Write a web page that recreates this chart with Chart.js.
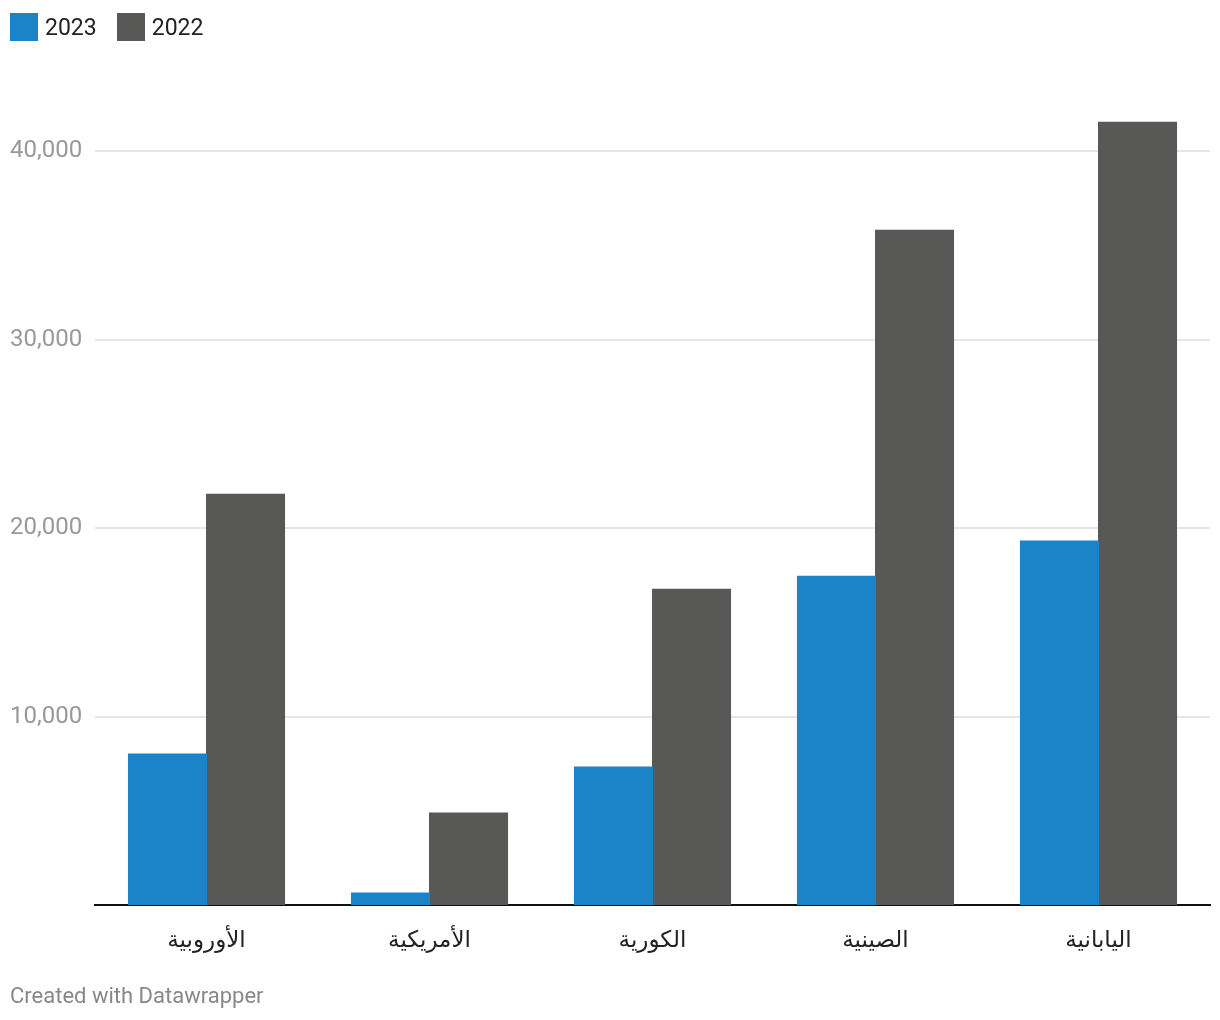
<!DOCTYPE html>
<html>
<head>
<meta charset="utf-8">
<script src="https://cdn.jsdelivr.net/npm/chart.js@4"></script>
<style>
  body { margin: 0; background: #fff; font-family: Roboto, "DejaVu Sans", sans-serif; }
  #wrap { position: relative; width: 1220px; height: 1020px; }
  #legend { position: absolute; left: 10px; top: 13px; display: flex; font-size: 23px; color: #222; }
  .item { display: flex; align-items: center; margin-right: 20px; }
  .box { width: 28px; height: 28px; margin-right: 7px; }
  #footer { position: absolute; left: 10px; top: 983px; font-size: 22px; color: #888; }
</style>
</head>
<body>
<div id="wrap">
  <canvas id="chart" width="1220" height="1020"></canvas>
  <div id="legend"></div>
  <div id="footer">Created with Datawrapper</div>
</div>
<script>
// ----------------------
// Data
// ----------------------
const categories = ["الأوروبية", "الأمريكية", "الكورية", "الصينية", "اليابانية"];
const values2023 = [8010, 640, 7320, 17450, 19310];
const values2022 = [21800, 4880, 16760, 35810, 41540];
const yTicks = [10000, 20000, 30000, 40000];

const BLUE = "#1b83c7";
const GRAY = "#585856";

// ----------------------
// Legend (html)
// ----------------------
const series = [
  { label: "2023", color: BLUE, data: values2023 },
  { label: "2022", color: GRAY, data: values2022 }
];
document.getElementById("legend").innerHTML = series
  .map(s => `<div class="item"><div class="box" style="background:${s.color}"></div>${s.label}</div>`)
  .join("");

// ----------------------
// Chart
// ----------------------
const ctx = document.getElementById("chart").getContext("2d");
new Chart(ctx, {
  type: "bar",
  data: {
    labels: categories,
    datasets: series.map(s => ({
      label: s.label,
      data: s.data,
      backgroundColor: s.color,
      borderWidth: 0,
      inflateAmount: 0.5,
      categoryPercentage: 0.7,
      barPercentage: 1.0
    }))
  },
  options: {
    responsive: false,
    animation: false,
    layout: { padding: { top: 57, right: 10, left: 10, bottom: 0 } },
    plugins: { legend: { display: false }, tooltip: { enabled: false } },
    scales: {
      x: {
        grid: { display: false, drawTicks: false },
        border: { display: true, color: "#111", width: 2 },
        ticks: {
          color: "#222",
          padding: 22,
          font: { family: "Roboto, 'DejaVu Sans', sans-serif", size: 23 }
        },
        afterFit: scale => { scale.height = 115; }
      },
      y: {
        min: 0,
        max: 45000,
        grid: { color: "#e6e6e6", lineWidth: 2, drawTicks: false },
        border: { display: false },
        afterBuildTicks: scale => { scale.ticks = yTicks.map(v => ({ value: v })); },
        afterFit: scale => { scale.width = 85; },
        ticks: {
          crossAlign: "far",
          color: "#999",
          font: { family: "Roboto, sans-serif", size: 24 },
          callback: v => v.toLocaleString("en-US")
        }
      }
    }
  }
});
</script>
</body>
</html>
